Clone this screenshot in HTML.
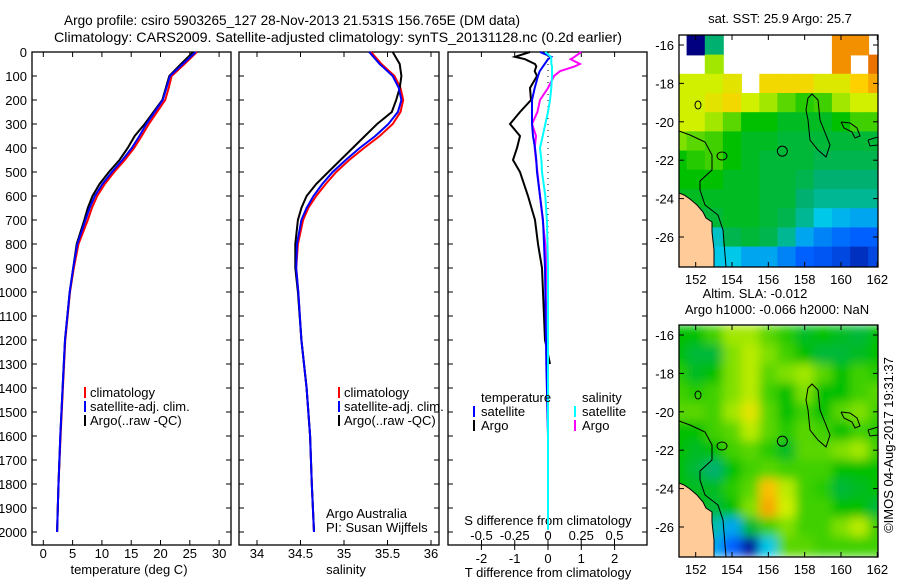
<!DOCTYPE html>
<html><head><meta charset="utf-8">
<style>
html,body{margin:0;padding:0;background:#fff;}
svg{display:block;font-family:"Liberation Sans",sans-serif;}
text{font-size:13px;fill:#000;}
</style></head>
<body>
<svg id="fig" width="900" height="580" viewBox="0 0 900 580" xmlns="http://www.w3.org/2000/svg">
<text x="64" y="25" style="font-size:14px" textLength="456" lengthAdjust="spacingAndGlyphs">Argo profile: csiro 5903265_127 28-Nov-2013 21.531S 156.765E (DM data)</text>
<text x="54" y="42" style="font-size:14px" textLength="568" lengthAdjust="spacingAndGlyphs">Climatology: CARS2009. Satellite-adjusted climatology: synTS_20131128.nc (0.2d earlier)</text>
<g id="g1"></g>
<g id="g2"></g>
<g id="g3"></g>
<g id="m1"></g>
<g id="m2"></g>
<text transform="translate(893,445) rotate(-90)" text-anchor="middle">©IMOS 04-Aug-2017 19:31:37</text>
<defs><filter id="blur" x="0" y="0" width="1" height="1"><feGaussianBlur stdDeviation="5"/></filter>
<clipPath id="c1"><rect x="679" y="35" width="199" height="232"/></clipPath>
<clipPath id="c2"><rect x="679" y="325" width="199" height="232"/></clipPath></defs>
</svg>
<script>
// ---- profile data ----
const depths = [0,50,100,150,200,250,300,350,400,450,500,550,600,650,700,800,900,1000,1200,1400,1600,1800,2000];
const tempSat = [26.0,23.8,21.6,21.0,20.4,19.0,17.6,16.4,15.1,13.5,11.7,10.1,8.8,7.9,7.2,5.8,5.1,4.5,3.7,3.3,2.9,2.6,2.35];
const tempClim = [26.2,24.1,21.9,21.4,20.8,19.4,18.0,16.8,15.5,13.9,12.1,10.5,9.2,8.3,7.6,6.0,5.2,4.55,3.75,3.35,2.95,2.6,2.35];
const tempArgo = [25.6,23.5,21.5,20.9,20.3,18.8,17.3,15.6,14.4,13.0,11.2,9.6,8.4,7.6,7.0,5.7,5.1,4.5,3.7,3.3,2.9,2.6,2.35];
const salSat = [35.29,35.41,35.56,35.63,35.66,35.62,35.51,35.36,35.18,35.02,34.87,34.75,34.65,34.57,34.51,34.46,34.45,34.475,34.51,34.57,34.61,34.63,34.655];
const salClim = [35.31,35.43,35.58,35.65,35.68,35.65,35.56,35.41,35.23,35.06,34.91,34.79,34.68,34.59,34.53,34.47,34.45,34.475,34.51,34.57,34.61,34.63,34.655];
const salArgo = [35.56,35.64,35.66,35.64,35.60,35.55,35.38,35.24,35.10,34.96,34.82,34.68,34.57,34.51,34.47,34.44,34.44,34.47,34.51,34.57,34.61,34.63,34.655];
const diffDepths = [0,20,30,50,60,80,100,150,200,250,300,350,400,450,500,600,700,800,900,1000,1200,1300];
const dTSat = [-0.24,0.1,0.0,-0.1,-0.15,-0.25,-0.3,-0.4,-0.48,-0.48,-0.48,-0.45,-0.39,-0.35,-0.33,-0.24,-0.15,-0.12,-0.09,-0.08,-0.06,-0.05];
const dTArgo = [-0.54,-0.99,-0.69,-0.39,-0.35,-0.4,-0.33,-0.54,-0.51,-0.84,-1.14,-0.84,-0.93,-1.05,-0.84,-0.6,-0.39,-0.3,-0.18,-0.15,-0.09,0.06];
const dSSat = [-0.02,0.02,0.025,0.025,0.03,0.03,0.03,0.025,0.015,0.0,-0.02,-0.04,-0.06,-0.05,-0.045,-0.02,-0.008,-0.004,0.0,0.0,0.0,0.0];
const dSArgo = [0.25,0.2,0.17,0.24,0.2,0.09,0.045,0.0,-0.06,-0.08,-0.12,-0.09,-0.1,-0.09,-0.08,-0.06,-0.04,-0.02,-0.01,-0.005,0.0,0.0];
const tTicks = [0,5,10,15,20,25,30];
const sTicks = [34,34.5,35,35.5,36];
const dTTicks = [-2,-1,0,1,2];
const dSTicks = [-0.5,-0.25,0,0.25,0.5];
const dSTickLabels = ["-0.5","-0.25","0","0.25","0.5"];
// ---- map data (1-degree cells, lon 151..162, lat -16..-27), null = no data ----
const mapLons = [151,152,153,154,155,156,157,158,159,160,161,162];
const mapLats = [-16,-17,-18,-19,-20,-21,-22,-23,-24,-25,-26,-27];
const n = null;
const sstGrid = [
[n,0.0,0.45,n,n,n,n,n,n,0.88,0.88,n],
[n,n,0.68,n,n,n,n,n,n,0.88,n,0.92],
[0.72,0.72,0.72,0.75,n,0.78,0.78,0.78,0.74,0.74,0.8,0.85],
[0.72,0.72,0.75,0.78,0.72,0.68,0.62,0.58,0.6,0.68,0.72,0.72],
[0.72,0.72,0.68,0.62,0.55,0.55,0.52,0.52,0.52,0.55,0.6,0.6],
[0.65,0.62,0.6,0.55,0.52,0.52,0.5,0.5,0.5,0.5,0.5,0.5],
[0.55,0.58,0.6,0.55,0.52,0.5,0.5,0.5,0.48,0.48,0.48,0.48],
[0.55,0.55,0.55,0.52,0.52,0.5,0.5,0.48,0.45,0.45,0.45,0.45],
[0.52,0.52,0.52,0.52,0.52,0.5,0.5,0.45,0.42,0.42,0.42,0.42],
[0.5,0.5,0.5,0.52,0.52,0.5,0.48,0.42,0.35,0.32,0.3,0.3],
[0.45,0.4,0.38,0.48,0.5,0.48,0.42,0.3,0.25,0.22,0.2,0.2],
[0.35,0.35,0.35,0.35,0.3,0.3,0.25,0.2,0.18,0.15,0.1,0.15]];
const slaGrid = [
[0.55,0.55,0.6,0.68,0.68,0.62,0.58,0.52,0.55,0.52,0.5,0.55],
[0.55,0.5,0.5,0.65,0.7,0.65,0.6,0.55,0.5,0.5,0.52,0.55],
[0.58,0.52,0.55,0.65,0.7,0.62,0.65,0.68,0.62,0.55,0.6,0.58],
[0.6,0.58,0.6,0.65,0.7,0.6,0.55,0.65,0.55,0.55,0.6,0.62],
[0.62,0.62,0.6,0.68,0.75,0.62,0.55,0.6,0.55,0.62,0.65,0.6],
[0.55,0.55,0.6,0.62,0.7,0.62,0.58,0.62,0.6,0.55,0.6,0.58],
[0.55,0.52,0.55,0.6,0.62,0.58,0.52,0.62,0.62,0.65,0.68,0.6],
[0.55,0.5,0.45,0.55,0.6,0.62,0.6,0.6,0.6,0.55,0.55,0.55],
[0.55,0.52,0.52,0.58,0.62,0.82,0.7,0.6,0.58,0.5,0.52,0.55],
[0.55,0.55,0.5,0.55,0.65,0.85,0.72,0.6,0.6,0.55,0.55,0.5],
[0.55,0.5,0.4,0.3,0.5,0.6,0.65,0.6,0.6,0.65,0.7,0.6],
[0.55,0.5,0.3,0.2,0.05,0.35,0.62,0.62,0.6,0.6,0.6,0.6]];
const lonTicks = [152,154,156,158,160,162];
const latTicks = [-16,-18,-20,-22,-24,-26];
const argoLon = 156.77, argoLat = -21.53;

const NS = "http://www.w3.org/2000/svg";
function mk(parent, tag, attrs, txt){
  const e = document.createElementNS(NS, tag);
  for (const k in attrs) e.setAttribute(k, attrs[k]);
  if (txt !== undefined) e.textContent = txt;
  parent.appendChild(e); return e;
}
const yD = d => 52 + d*0.24;

function box(g, x0, x1){
  const r = mk(g,'rect',{x:x0,y:52,width:x1-x0,height:493,fill:'none',stroke:'#000','stroke-width':1.3});
  
  
  for (let d=0; d<=2000; d+=100){
    const y=yD(d);
    mk(g,'line',{x1:x0,x2:x0+5,y1:y,y2:y,stroke:'#000'});
    mk(g,'line',{x1:x1-5,x2:x1,y1:y,y2:y,stroke:'#000'});
  }
}
function xticks(g, ticks, labels, fx, ly, top){
  ticks.forEach((t,i)=>{
    const x=fx(t);
    mk(g,'line',{x1:x,x2:x,y1:545,y2:540,stroke:'#000'});
    if(top) mk(g,'line',{x1:x,x2:x,y1:52,y2:57,stroke:'#000'});
    const tx = mk(g,'text',{x:x,y:ly,'text-anchor':'middle'},labels[i]);
    
    
  });
}
function line(g, xs, ds, fx, color, name, w){
  const pts = xs.map((v,i)=>fx(v).toFixed(1)+','+yD(ds[i]).toFixed(1)).join(' ');
  const p = mk(g,'polyline',{points:pts,fill:'none',stroke:color,'stroke-width':w||2});
  
  
}
function legend(g, x, items){
  items.forEach((it,i)=>{
    const y=397+i*14;
    mk(g,'rect',{x:x,y:y-10,width:2,height:11,fill:it[0]});
    const t=mk(g,'text',{x:x+6,y:y},it[1]);
    
    
  });
}
// Panel 1
const g1=document.getElementById('g1');
const fT = t => 43.3 + t*5.86;
box(g1,32,231);
for (let d=0; d<=2000; d+=100){
  const t=mk(g1,'text',{x:27,y:yD(d)+5,'text-anchor':'end'},String(d));
  
  
}
xticks(g1,tTicks,tTicks.map(String),fT,558,true);
line(g1,tempClim,depths,fT,'#f00','temp-climatology-line');
line(g1,tempArgo,depths,fT,'#000','temp-argo-line');
line(g1,tempSat,depths,fT,'#00f','temp-satellite-line');
legend(g1,84,[['#f00','climatology'],['#00f','satellite-adj. clim.'],['#000','Argo(..raw -QC)']]);
mk(g1,'text',{x:129,y:574,'text-anchor':'middle'},'temperature (deg C)');
// Panel 2
const g2=document.getElementById('g2');
const fS = s => 257 + (s-34)*87;
box(g2,239,439);
xticks(g2,sTicks,["34","34.5","35","35.5","36"],fS,558,true);
line(g2,salClim,depths,fS,'#f00','sal-climatology-line');
line(g2,salArgo,depths,fS,'#000','sal-argo-line');
line(g2,salSat,depths,fS,'#00f','sal-satellite-line');
legend(g2,338,[['#f00','climatology'],['#00f','satellite-adj. clim.'],['#000','Argo(..raw -QC)']]);
mk(g2,'text',{x:346,y:574,'text-anchor':'middle'},'salinity');
mk(g2,'text',{x:326,y:518},'Argo Australia');
mk(g2,'text',{x:326,y:532},'PI: Susan Wijffels');
// Panel 3
const g3=document.getElementById('g3');
const fDT = t => 548 + t*33.3;
const fDS = s => 548 + s*133;
box(g3,448,647);
for (let d=0; d<=2000; d+=25) mk(g3,'rect',{x:547.5,y:yD(d),width:1,height:1,fill:'#000'});
dTTicks.forEach(t=>{mk(g3,'line',{x1:fDT(t),x2:fDT(t),y1:52,y2:57,stroke:'#000'});});
dTTicks.forEach(t=>{mk(g3,'line',{x1:fDT(t),x2:fDT(t),y1:545,y2:550,stroke:'#000'});
  const tx=mk(g3,'text',{x:fDT(t),y:563,'text-anchor':'middle'},String(t));
  
  });
dSTicks.forEach((s,i)=>{mk(g3,'line',{x1:fDS(s),x2:fDS(s),y1:545,y2:540,stroke:'#000'});
  const tx=mk(g3,'text',{x:fDS(s),y:540,'text-anchor':'middle'},dSTickLabels[i]);
  
  });
mk(g3,'text',{x:548,y:525,'text-anchor':'middle'},'S difference from climatology');
mk(g3,'text',{x:548,y:577,'text-anchor':'middle'},'T difference from climatology');
line(g3,dTArgo,diffDepths,fDT,'#000','t-diff-argo-line');
line(g3,dSArgo,diffDepths,fDS,'#f0f','s-diff-argo-line');
line(g3,dTSat.concat([0,0]),diffDepths.concat([1600,1990]),fDT,'#00f','t-diff-satellite-line');
line(g3,dSSat.concat([0,0]),diffDepths.concat([1600,1990]),fDS,'#0ff','s-diff-satellite-line');
mk(g3,'text',{x:481,y:402},'temperature');
mk(g3,'text',{x:582,y:402},'salinity');
[['#00f','satellite',473],['#000','Argo',473],['#0ff','satellite',574],['#f0f','Argo',574]].forEach((it,i)=>{
  const y=416+(i%2)*14;
  mk(g3,'rect',{x:it[2],y:y-10,width:2,height:11,fill:it[0]});
  const t=mk(g3,'text',{x:it[2]+8,y:y},it[1]);
  
  
});
// Maps
const stops=[[0,[0,0,128]],[0.2,[0,96,255]],[0.35,[0,200,232]],[0.45,[0,176,112]],[0.55,[0,192,0]],[0.65,[128,224,0]],[0.72,[208,240,0]],[0.8,[255,208,0]],[0.9,[240,128,0]],[1,[208,64,0]]];
function cmap(v){
  for(let i=1;i<stops.length;i++){ if(v<=stops[i][0]){const a=stops[i-1],b=stops[i];const f=(v-a[0])/(b[0]-a[0]);
    return 'rgb('+a[1].map((c,k)=>Math.round(c+(b[1][k]-c)*f)).join(',')+')';}}
  return 'rgb(208,64,0)';
}
function drawMap(id, grid, y0, clip, blur, title){
  const g=document.getElementById(id);
  const fx = lon => 695.7 + (lon-152)*18.16;
  const fy = lat => y0 + 10 + (-16-lat)*19.2;
  const cells=mk(g,'g',{'clip-path':'url(#'+clip+')'});
  const inner=mk(cells,'g',blur?{filter:'url(#blur)'}:{});
  grid.forEach((row,r)=>row.forEach((v,c)=>{
    if(v===null) return;
    const lat=mapLats[r], lon=mapLons[c];
    const x=fx(lon-0.5), y=fy(lat+0.5);
    const rc=mk(inner,'rect',{x:x.toFixed(1),y:y.toFixed(1),width:19,height:20,fill:cmap(v)});
    
    
  }));
  const o=y0-35;
  mk(cells,'polygon',{points:[[679,193],[684,195],[690,199],[697,205],[703,212],[706,218],[712,222],[712,232],[714,250],[714,267],[679,267]].map(p=>p[0]+','+(p[1]+o)).join(' '),fill:'#ffcc99',stroke:'#000','stroke-width':1});
  const cont=[[[679,131],[690,135],[705,142],[712,155],[712,170],[700,181],[700,190],[705,205],[718,215],[723,230],[726,267]],
    [[808,98],[812,94],[818,100],[820,120],[830,145],[826,157],[818,150],[810,140],[808,120],[806,110],[808,98]],
    [[841,122],[850,123],[857,128],[860,136],[855,138],[852,132],[844,128],[841,122]],
    [[868,140],[878,137],[878,145],[870,146],[868,140]]];
  cont.forEach(c=>{const p=mk(cells,'polyline',{points:c.map(q=>q[0]+','+(q[1]+o)).join(' '),fill:'none',stroke:'#000','stroke-width':1});
     });
  mk(cells,'ellipse',{cx:698,cy:105+o,rx:3,ry:4,fill:'none',stroke:'#000'});
  mk(cells,'ellipse',{cx:722,cy:156+o,rx:5,ry:4,fill:'none',stroke:'#000'});
  const m=mk(g,'circle',{cx:fx(argoLon),cy:fy(argoLat),r:5,fill:'none',stroke:'#000','stroke-width':1});
  
  
  const fr=mk(g,'rect',{x:679,y:y0,width:199,height:232,fill:'none',stroke:'#000','stroke-width':1.3});
  
  
  lonTicks.forEach(l=>{const x=fx(l);
    mk(g,'line',{x1:x,x2:x,y1:y0,y2:y0+5,stroke:'#000'});
    mk(g,'line',{x1:x,x2:x,y1:y0+232,y2:y0+227,stroke:'#000'});
    const t=mk(g,'text',{x:x,y:y0+249,'text-anchor':'middle'},String(l));
     });
  latTicks.forEach(l=>{const y=fy(l);
    mk(g,'line',{x1:679,x2:684,y1:y,y2:y,stroke:'#000'});
    mk(g,'line',{x1:873,x2:878,y1:y,y2:y,stroke:'#000'});
    const t=mk(g,'text',{x:674,y:y+5,'text-anchor':'end'},String(l));
     });
  title.forEach((tt,i)=>{const t=mk(g,'text',{x:tt[1],y:tt[2],'text-anchor':'middle','font-size':'12'},tt[0]);
     });
}
drawMap('m1',sstGrid,35,'c1',false,[['sat. SST: 25.9 Argo: 25.7',780,23]]);
drawMap('m2',slaGrid,325,'c2',true,[['Altim. SLA: -0.012',755,298],['Argo h1000: -0.066 h2000: NaN',777,314]]);
</script>
</body></html>
